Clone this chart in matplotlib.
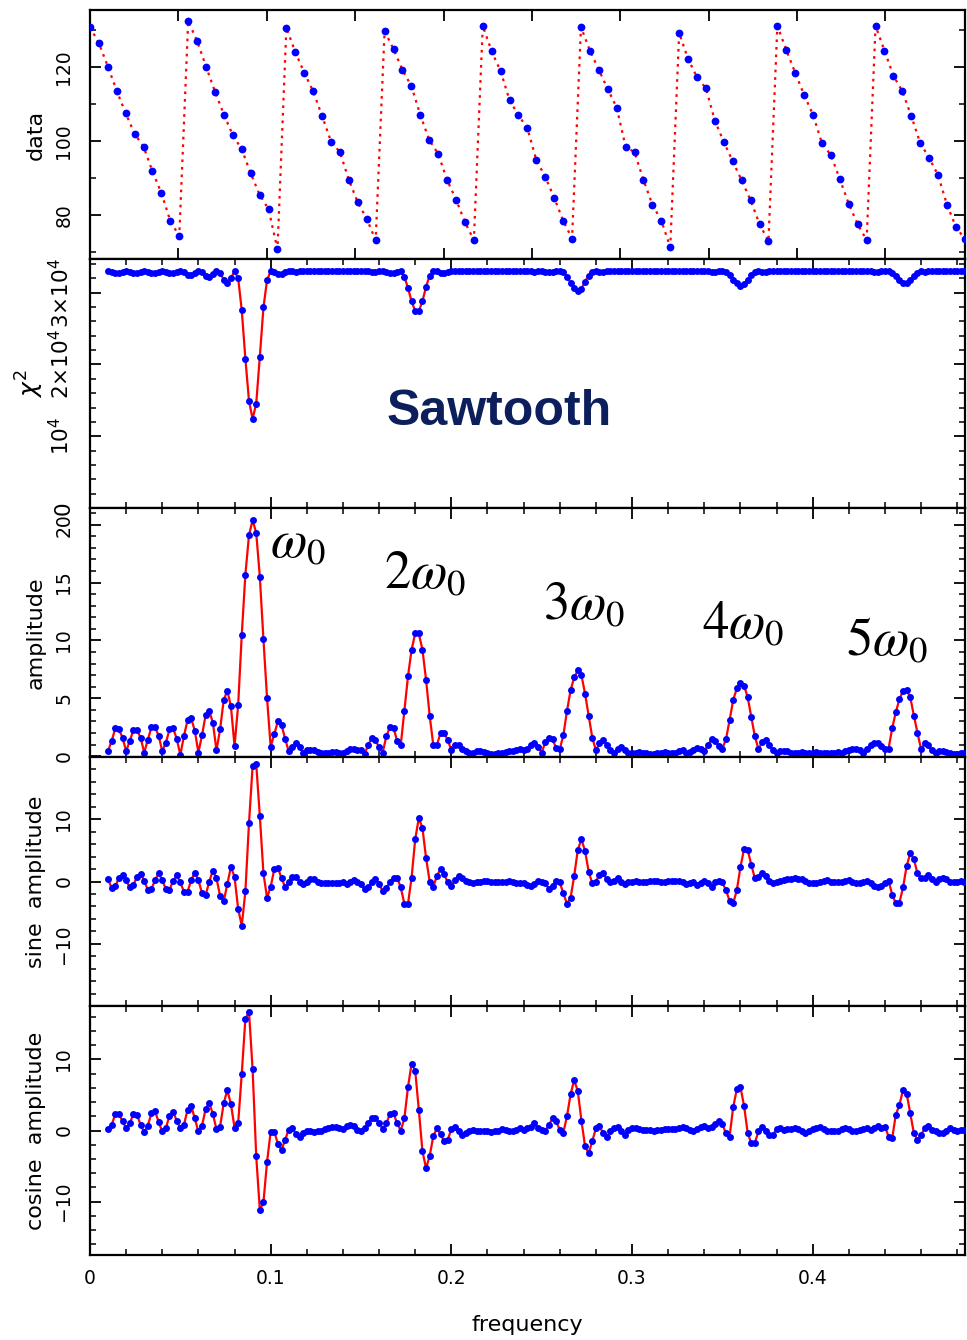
import numpy as np
import matplotlib
matplotlib.use("Agg")
import matplotlib.pyplot as plt
from matplotlib.ticker import MultipleLocator, NullLocator

# ------------------------------------------------------------------ data
data_values = [
    130.9, 126.5, 120.2, 113.6, 107.5, 102.0, 98.5, 91.8, 85.9, 78.4, 74.3,
    132.5, 127.1, 120.2, 113.4, 107.2, 101.6, 97.8, 91.3, 85.5, 81.6, 70.7,
    130.7, 124.1, 118.5, 113.5, 106.8, 99.9, 97.0, 89.5, 83.4, 79.0, 73.2,
    129.8, 124.9, 119.3, 114.9, 107.1, 100.3, 96.6, 89.5, 84.2, 78.1, 73.2,
    131.2, 124.3, 118.9, 111.1, 107.0, 103.5, 94.9, 90.3, 84.7, 78.5, 73.6,
    130.9, 124.5, 119.3, 114.1, 109.1, 98.5, 97.0, 89.5, 82.8, 78.5, 71.3,
    129.3, 122.2, 117.3, 114.3, 105.5, 99.8, 94.5, 89.4, 84.0, 77.6, 72.9,
    131.2, 124.7, 118.5, 112.5, 107.1, 99.4, 96.2, 89.7, 83.0, 77.5, 73.2,
    131.2, 124.5, 117.7, 113.5, 106.8, 99.5, 95.5, 90.8, 82.8, 76.8, 73.5,
]
time_step = 1.01
freq_start = 0.01
freq_step = 0.002

amplitude = [
    0.46, 1.3, 2.4, 2.3, 1.6, 0.43, 1.3, 2.25, 2.25, 1.6,
    0.3, 1.4, 2.5, 2.5, 1.75, 0.43, 1.15, 2.3, 2.4, 1.5,
    0.1, 1.75, 3.1, 3.25, 2.2, 0.3, 1.8, 3.55, 3.9, 2.9,
    0.5, 2.3, 4.85, 5.65, 4.3, 0.87, 4.4, 10.5, 15.7, 19.1,
    20.4, 19.3, 15.5, 10.1, 5.0, 0.8, 1.9, 3.0, 2.7, 1.5,
    0.4, 0.8, 1.15, 0.8, 0.25, 0.5, 0.55, 0.5, 0.35, 0.25,
    0.25, 0.3, 0.35, 0.35, 0.3, 0.3, 0.45, 0.6, 0.65, 0.5,
    0.5, 0.2, 0.95, 1.6, 1.4, 0.75, 0.3, 1.7, 2.5, 2.45,
    1.3, 0.95, 3.9, 6.9, 9.2, 10.6, 10.6, 9.2, 6.6, 3.5,
    0.95, 0.95, 2.0, 2.0, 1.4, 0.5, 0.95, 0.95, 0.65, 0.4,
    0.3, 0.3, 0.4, 0.45, 0.35, 0.25, 0.2, 0.2, 0.25, 0.3,
    0.35, 0.4, 0.45, 0.55, 0.6, 0.5, 0.6, 0.95, 1.1, 0.8,
    0.3, 1.2, 1.6, 1.45, 0.7, 0.6, 1.8, 3.9, 5.7, 6.8,
    7.4, 7.0, 5.4, 3.5, 1.6, 0.5, 1.1, 1.4, 0.95, 0.5,
    0.23, 0.6, 0.75, 0.5, 0.3, 0.25, 0.3, 0.35, 0.3, 0.25,
    0.2, 0.2, 0.25, 0.3, 0.35, 0.3, 0.25, 0.3, 0.4, 0.5,
    0.3, 0.35, 0.5, 0.7, 0.6, 0.4, 0.95, 1.45, 1.3, 0.9,
    0.65, 1.45, 3.1, 4.85, 5.85, 6.35, 6.1, 5.1, 3.4, 1.7,
    0.6, 1.2, 1.4, 0.95, 0.5, 0.3, 0.4, 0.45, 0.4, 0.3,
    0.3, 0.3, 0.35, 0.3, 0.25, 0.3, 0.35, 0.3, 0.3, 0.25,
    0.25, 0.3, 0.35, 0.3, 0.4, 0.5, 0.6, 0.65, 0.5, 0.3,
    0.6, 0.95, 1.1, 1.15, 0.87, 0.6, 0.65, 2.4, 3.8, 4.9,
    5.65, 5.7, 5.1, 3.5, 2.0, 0.6, 1.1, 0.95, 0.5, 0.3,
    0.4, 0.45, 0.35, 0.25, 0.2, 0.2, 0.25, 0.3,
]

sine_amplitude = [
    0.37, -1.07, -0.7, 0.53, 1.07, 0.2, -0.96, -0.6, 0.75, 1.28,
    0.1, -1.33, -1.2, 0.2, 1.33, 0.2, -1.2, -1.33, 0.1, 1.0,
    -0.16, -1.65, -1.65, 0.2, 1.44, 0.2, -1.87, -2.2, 0.0, 1.7,
    0.53, -2.3, -3.2, -0.43, 2.35, 0.75, -4.4, -7.1, -1.6, 9.4,
    18.5, 18.9, 10.5, 1.3, -2.6, -0.85, 2.0, 2.2, 0.5, -0.85,
    -0.15, 0.75, 0.75, 0.0, -0.43, 0.0, 0.37, 0.37, 0.0, -0.3,
    -0.3, -0.27, -0.3, -0.3, -0.2, -0.16, -0.43, 0.0, 0.2, 0.0,
    -0.43, -1.2, -0.96, -0.16, 0.37, -0.43, -1.5, -1.07, -0.05, 0.5,
    0.64, -0.96, -3.6, -3.6, 0.64, 6.8, 10.2, 8.6, 3.8, 0.0,
    -0.85, 0.9, 2.0, 1.2, -0.16, -0.7, 0.2, 0.9, 0.64, 0.1,
    -0.1, -0.2, -0.15, 0.0, 0.1, 0.1, 0.0, -0.1, -0.15, -0.1,
    0.0, 0.05, -0.1, -0.2, -0.3, -0.3, -0.5, -0.7, -0.4, 0.1,
    0.0, -0.3, -1.2, -0.7, 0.1, -0.16, -1.9, -3.6, -2.6, 0.9,
    5.1, 6.8, 4.9, 1.6, -0.3, 0.0, 1.07, 1.3, 0.37, -0.16,
    0.1, 0.64, -0.16, -0.43, -0.16, 0.0, 0.05, 0.0, -0.05, 0.0,
    0.05, 0.1, 0.05, 0.0, 0.0, 0.05, 0.1, 0.1, 0.1, -0.1,
    -0.43, -0.2, 0.0, -0.5, -0.2, 0.1, -0.3, -0.85, -0.16, 0.1,
    -0.16, -1.4, -3.1, -3.5, -1.4, 2.3, 5.2, 5.1, 2.7, 0.5,
    0.75, 1.44, 0.9, 0.1, -0.3, -0.05, 0.1, 0.25, 0.37, 0.4,
    0.5, 0.45, 0.37, 0.1, -0.2, -0.3, -0.2, -0.05, 0.1, 0.2,
    0.0, -0.1, -0.16, 0.0, 0.15, 0.2, 0.0, -0.3, -0.2, -0.05,
    0.1, -0.3, -0.7, -0.96, -0.7, -0.2, 0.1, -2.1, -3.5, -3.4,
    -0.96, 2.5, 4.5, 3.6, 1.3, 0.5, 0.64, 1.07, 0.4, 0.0,
    0.37, 0.64, 0.37, -0.16, 0.0, 0.0, 0.05, 0.0,
]

cosine_amplitude = [
    0.2, 0.8, 2.3, 2.3, 1.3, 0.33, 1.0, 2.3, 2.2, 0.8,
    -0.23, 0.7, 2.4, 2.7, 1.2, -0.14, 0.33, 2.1, 2.6, 1.4,
    0.33, 0.8, 2.9, 3.5, 1.7, -0.14, 0.7, 3.0, 3.9, 2.3,
    0.2, 0.56, 3.8, 5.7, 3.7, 0.4, 1.0, 8.0, 15.7, 16.7,
    8.6, -3.6, -11.2, -10.1, -4.4, -0.15, -0.15, -1.9, -2.7, -1.3,
    0.1, 0.33, -0.5, -0.93, -0.37, 0.0, -0.14, -0.23, 0.0, 0.0,
    0.2, 0.33, 0.47, 0.56, 0.42, 0.2, 0.65, 0.8, 0.65, 0.1,
    -0.14, 0.3, 1.0, 1.7, 1.7, 1.0, 0.2, 1.0, 2.3, 2.4,
    1.0, 0.0, 1.7, 6.1, 9.4, 8.4, 2.9, -2.9, -5.3, -3.6,
    -0.8, 0.3, -0.5, -1.5, -1.3, 0.2, 0.56, -0.14, -0.6, -0.4,
    0.0, 0.1, 0.0, 0.0, -0.14, -0.1, -0.23, -0.1, 0.0, 0.2,
    0.1, -0.14, 0.0, 0.1, 0.33, 0.1, 0.3, 0.56, 1.0, 0.33,
    0.1, 0.0, 0.8, 1.7, 1.3, 0.1, -0.3, 2.0, 5.1, 7.1,
    5.5, 1.4, -2.2, -3.2, -1.5, 0.3, 0.65, -0.4, -0.9, -0.14,
    0.3, 0.56, -0.14, -0.6, 0.1, 0.3, 0.3, 0.2, 0.1, 0.1,
    0.05, 0.0, 0.05, 0.1, 0.15, 0.2, 0.2, 0.25, 0.3, 0.56,
    0.33, 0.1, -0.14, 0.2, 0.47, 0.65, 0.33, 0.56, 0.9, 1.3,
    0.9, -0.4, -0.85, 3.3, 5.8, 6.1, 3.5, -0.3, -1.8, -1.7,
    -0.14, 0.56, 0.0, -0.6, -0.6, 0.2, 0.33, 0.1, 0.15, 0.2,
    0.33, 0.2, 0.0, -0.3, 0.0, 0.2, 0.33, 0.47, 0.2, 0.0,
    -0.14, -0.05, 0.0, 0.2, 0.33, 0.2, 0.0, -0.14, 0.1, 0.2,
    0.33, 0.1, 0.4, 0.65, 0.33, 0.56, -0.85, -1.07, 2.2, 3.6,
    5.7, 5.2, 2.4, -0.37, -1.3, -0.6, 0.3, 0.6, 0.1, 0.0,
    -0.3, -0.4, 0.0, 0.3, 0.1, -0.1, 0.05, 0.1,
]

# chi-square in units of 10^4
chi2_e4 = [
    3.299, 3.292, 3.271, 3.274, 3.287, 3.299, 3.292, 3.275, 3.275, 3.287,
    3.300, 3.290, 3.269, 3.269, 3.285, 3.299, 3.293, 3.274, 3.271, 3.289,
    3.300, 3.285, 3.252, 3.248, 3.276, 3.300, 3.284, 3.238, 3.225, 3.258,
    3.299, 3.274, 3.184, 3.142, 3.208, 3.296, 3.204, 2.754, 2.080, 1.494,
    1.240, 1.456, 2.111, 2.795, 3.176, 3.297, 3.282, 3.255, 3.264, 3.289,
    3.299, 3.297, 3.293, 3.297, 3.300, 3.299, 3.299, 3.299, 3.299, 3.300,
    3.300, 3.300, 3.299, 3.299, 3.300, 3.300, 3.299, 3.298, 3.298, 3.299,
    3.299, 3.300, 3.296, 3.287, 3.290, 3.297, 3.300, 3.286, 3.269, 3.270,
    3.292, 3.296, 3.225, 3.064, 2.881, 2.744, 2.744, 2.881, 3.084, 3.239,
    3.296, 3.296, 3.280, 3.280, 3.290, 3.299, 3.296, 3.296, 3.298, 3.299,
    3.300, 3.300, 3.299, 3.299, 3.299, 3.300, 3.300, 3.300, 3.300, 3.300,
    3.299, 3.299, 3.299, 3.299, 3.298, 3.299, 3.298, 3.296, 3.294, 3.297,
    3.300, 3.293, 3.287, 3.290, 3.298, 3.298, 3.284, 3.225, 3.139, 3.071,
    3.029, 3.057, 3.156, 3.239, 3.287, 3.299, 3.294, 3.290, 3.296, 3.299,
    3.300, 3.298, 3.297, 3.299, 3.300, 3.300, 3.300, 3.299, 3.300, 3.300,
    3.300, 3.300, 3.300, 3.300, 3.299, 3.300, 3.300, 3.300, 3.299, 3.299,
    3.300, 3.299, 3.299, 3.298, 3.298, 3.299, 3.296, 3.290, 3.292, 3.296,
    3.298, 3.290, 3.252, 3.184, 3.131, 3.100, 3.116, 3.171, 3.243, 3.286,
    3.298, 3.293, 3.290, 3.296, 3.299, 3.300, 3.299, 3.299, 3.299, 3.300,
    3.300, 3.300, 3.299, 3.300, 3.300, 3.300, 3.299, 3.300, 3.300, 3.300,
    3.300, 3.300, 3.299, 3.300, 3.299, 3.299, 3.298, 3.298, 3.299, 3.300,
    3.298, 3.296, 3.294, 3.293, 3.296, 3.298, 3.298, 3.271, 3.229, 3.181,
    3.142, 3.139, 3.171, 3.239, 3.280, 3.298, 3.294, 3.296, 3.299, 3.300,
    3.299, 3.299, 3.299, 3.300, 3.300, 3.300, 3.300, 3.300,
]

freq_tick_values = [0, 0.1, 0.2, 0.3, 0.4]
freq_tick_labels = ['0', '0.1', '0.2', '0.3', '0.4']
harmonic_labels = [r'$\omega_0$', r'$2\omega_0$', r'$3\omega_0$', r'$4\omega_0$', r'$5\omega_0$']

# ------------------------------------------------------------------ style
plt.rcParams.update({
    'font.family': ['DejaVu Sans'],
    'axes.linewidth': 1.6,
    'xtick.direction': 'in', 'ytick.direction': 'in',
    'xtick.top': True, 'ytick.right': True,
    'xtick.major.size': 8, 'ytick.major.size': 8,
    'xtick.minor.size': 4.5, 'ytick.minor.size': 4.5,
    'xtick.major.width': 1.3, 'ytick.major.width': 1.3,
    'xtick.minor.width': 1.1, 'ytick.minor.width': 1.1,
    'xtick.labelsize': 13.5, 'ytick.labelsize': 13.5,
})

W, H = 967, 1340
fig, axes = plt.subplots(5, 1, figsize=(W / 100, H / 100), dpi=100)
fig.subplots_adjust(left=90 / W, right=965 / W, top=1 - 10 / H,
                    bottom=1 - 1255 / H, hspace=0)
ax_d, ax_c, ax_a, ax_s, ax_k = axes

time = np.arange(len(data_values)) * time_step
freq = freq_start + freq_step * np.arange(len(amplitude))

RED, BLUE = '#ff0000', '#0000ff'

# --- data panel
ax_d.plot(time, data_values, color=RED, lw=1.6, ls=(0, (1.2, 2.2)), zorder=2)
ax_d.plot(time, data_values, 'o', color=BLUE, ms=5.6, mew=0, zorder=3)
ax_d.set_xlim(0, 99.0)
ax_d.set_ylim(68.1, 135.5)
ax_d.xaxis.set_major_locator(MultipleLocator(10))
ax_d.xaxis.set_minor_locator(NullLocator())
ax_d.set_yticks([80, 100, 120])
ax_d.set_yticklabels(['80', '100', '120'], rotation=90, va='center')
ax_d.yaxis.set_minor_locator(MultipleLocator(10))
ax_d.set_ylabel('data', fontsize=16)

# --- frequency panels
chi2 = np.array(chi2_e4) * 1e4
series = [(ax_c, chi2), (ax_a, amplitude), (ax_s, sine_amplitude), (ax_k, cosine_amplitude)]
for ax, y in series:
    ax.plot(freq, y, color=RED, lw=1.6, zorder=2)
    ax.plot(freq, y, 'o', color=BLUE, ms=5.0, mew=0, zorder=3)
    ax.set_xlim(0, 0.4843)
    ax.set_xticks(freq_tick_values)
    ax.xaxis.set_minor_locator(MultipleLocator(0.02))

ax_c.set_ylim(0, 3.47e4)
ax_c.set_yticks([0, 1e4, 2e4, 3e4])
ax_c.set_yticklabels(['0', r'$10^4$', r'$2{\times}10^4$', r'$3{\times}10^4$'],
                     rotation=90, va='center', fontsize=15.5)
ax_c.yaxis.set_minor_locator(MultipleLocator(2000))
ax_c.set_ylabel(r'$\chi^2$', fontsize=18)

ax_a.set_ylim(-0.08, 21.45)
ax_a.set_yticks([0, 5, 10, 15, 20])
ax_a.set_yticklabels(['0', '5', '10', '15', '20'], rotation=90, va='center')
ax_a.yaxis.set_minor_locator(MultipleLocator(1))
ax_a.set_ylabel('amplitude', fontsize=16)

ax_s.set_ylim(-20, 20)
ax_s.set_yticks([-10, 0, 10])
ax_s.set_yticklabels(['\u221210', '0', '10'], rotation=90, va='center')
ax_s.yaxis.set_minor_locator(MultipleLocator(2))
ax_s.set_ylabel('sine  amplitude', fontsize=16)

ax_k.set_ylim(-17.5, 17.5)
ax_k.set_yticks([-10, 0, 10])
ax_k.set_yticklabels(['\u221210', '0', '10'], rotation=90, va='center')
ax_k.yaxis.set_minor_locator(MultipleLocator(2))
ax_k.set_ylabel('cosine  amplitude', fontsize=16)

for ax in axes:
    ax.tick_params(axis='y', which='both', pad=12)
    ax.yaxis.set_label_coords(-0.0503, 0.5)
for ax in axes[:-1]:
    ax.tick_params(axis='x', which='both', labelbottom=False)

ax_k.set_xticklabels(freq_tick_labels)
ax_k.tick_params(axis='x', which='both', pad=10)
ax_k.set_xlabel('frequency', fontsize=16)
ax_k.xaxis.set_label_coords(0.5, -0.241)

# --- annotations
label_pos = [(0.0995, 17.2), (0.163, 14.5), (0.2507, 11.8), (0.339, 10.2), (0.4187, 8.74)]
for lab, (fx, fy) in zip(harmonic_labels, label_pos):
    ax_a.text(fx, fy, lab, fontsize=38, math_fontfamily='stix',
              ha='left', va='baseline', color='black', zorder=5)

fig.text(499.5 / W, 1 - 425 / H, 'Sawtooth', fontsize=36, fontweight='bold',
         family='Liberation Sans', color='#0c1f5c', ha='center', va='baseline')

fig.savefig('out.png', dpi=100)
